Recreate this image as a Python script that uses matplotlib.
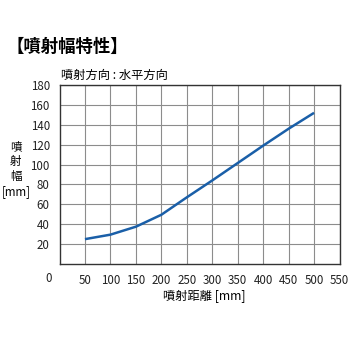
import matplotlib
matplotlib.use("Agg")
import matplotlib.pyplot as plt

# ---------------- data ----------------
distance = [50, 100, 150, 200, 250, 300, 350, 400, 450, 500]
width = [25, 29.5, 37.5, 49.5, 67, 84, 101.5, 119, 136, 152]
x_ticks = [50, 100, 150, 200, 250, 300, 350, 400, 450, 500, 550]
y_ticks = [20, 40, 60, 80, 100, 120, 140, 160, 180]

plt.rcParams['font.family'] = ['Noto Sans CJK JP', 'DejaVu Sans']

fig = plt.figure(figsize=(3.5, 3.5), dpi=100)
ax = fig.add_axes([59.5 / 350, 1 - 264 / 350, 280 / 350, 179 / 350])

ax.plot(distance, width, color='#1a5fa8', linewidth=1.8, solid_capstyle='butt')

ax.set_xlim(0, 550)
ax.set_ylim(0, 180)
ax.set_xticks(x_ticks)
ax.set_yticks(y_ticks)
ax.grid(True, color='#8c8c8c', linewidth=0.8)
ax.set_axisbelow(True)
ax.tick_params(length=0, labelsize=8.3, labelcolor='#222222')
ax.tick_params(axis='x', pad=7)
ax.tick_params(axis='y', pad=7)
for sp in ax.spines.values():
    sp.set_color('#333333')
    sp.set_linewidth(1.0)

# origin label at the corner
fig.text(48.5 / 350, 1 - 278 / 350, '0', fontsize=8.3, color='#222222',
         ha='center', va='center')

fig.text(7 / 350, 1 - 47 / 350, '【噴射幅特性】', fontsize=12.5,
         fontweight='bold', ha='left', va='center')
fig.text(61 / 350, 1 - 75 / 350, '噴射方向 : 水平方向', fontsize=8.8,
         ha='left', va='center')
fig.text(16 / 350, 1 - 169 / 350, '噴\n射\n幅\n[mm]', fontsize=8.3,
         ha='center', va='center', linespacing=1.2)
fig.text(204 / 350, 1 - 297 / 350, '噴射距離 [mm]', fontsize=8.8,
         ha='center', va='center')

fig.savefig('out.png', dpi=100, facecolor='white')
